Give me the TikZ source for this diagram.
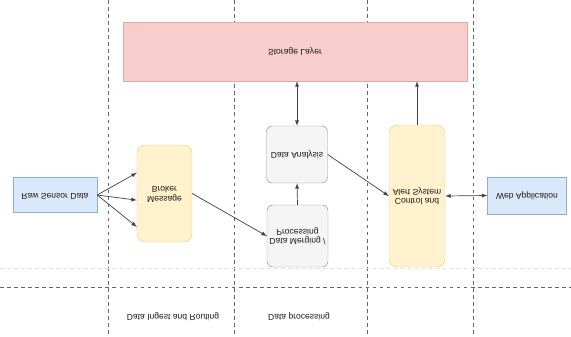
\documentclass[tikz,border=0pt]{standalone}
\usepackage{fontspec}
\setmainfont{Liberation Sans}
\usetikzlibrary{arrows}

\definecolor{sensorfill}{HTML}{DAE8FC}
\definecolor{sensorline}{HTML}{8FAAD3}
\definecolor{brokerfill}{HTML}{FFF2CC}
\definecolor{brokerline}{HTML}{E6CF8A}
\definecolor{storefill}{HTML}{F8CECC}
\definecolor{storeline}{HTML}{E3A9A9}
\definecolor{procfill}{HTML}{F5F5F5}
\definecolor{procline}{HTML}{9A9A9A}

% text is printed upside down in the picture
\newcommand{\upsidedown}[1]{\scalebox{1}[-1]{\begin{tabular}{@{}c@{}}#1\end{tabular}}}

\tikzset{
  box/.style={draw, font=\fontsize{7.3}{8.5}\selectfont, inner sep=2pt, text=black!90},
  bluebox/.style={box, fill=sensorfill, draw=sensorline},
  yellowbox/.style={box, rounded corners=7pt, fill=brokerfill, draw=brokerline},
  pinkbox/.style={box, fill=storefill, draw=storeline},
  graybox/.style={box, rounded corners=5pt, fill=procfill, draw=procline},
  lanelabel/.style={font=\fontsize{7.3}{8.5}\selectfont, text=black!90},
  lane/.style={dashed, thin, black!60},
  link/.style={-latex, semithick, black!75}
}

\begin{document}
\begin{tikzpicture}[x=0.03cm,y=-0.03cm]
  \useasboundingbox (0,0) rectangle (571,336);

  % swim lanes
  \foreach \x in {108,234,367,473}
    \draw[lane] (\x,0) -- (\x,336);
  \draw[dashed, black!12] (0,268) -- (571,268);
  \draw[lane] (0,287) -- (571,287);

  \node[pinkbox, minimum width=10.32cm, minimum height=1.77cm] (storage) at (295,51.5) {\upsidedown{Storage Layer}};
  \node[bluebox, minimum width=2.52cm, minimum height=1.05cm] (sensor) at (55,195) {\upsidedown{Raw Sensor Data}};
  \node[yellowbox, minimum width=1.65cm, minimum height=2.91cm] (broker) at (164.5,193.5) {\upsidedown{Message\\Broker}};
  \node[graybox, minimum width=1.83cm, minimum height=1.71cm] (analysis) at (297,154.5) {\upsidedown{Data Analysis}};
  \node[graybox, minimum width=1.83cm, minimum height=1.86cm] (merging) at (297.5,236) {\upsidedown{Data Merging /\\Processing}};
  \node[yellowbox, minimum width=1.68cm, minimum height=4.26cm] (control) at (417,196) {\upsidedown{Control and\\Alert System}};
  \node[bluebox, minimum width=2.37cm, minimum height=1.11cm] (webapp) at (527,195.5) {\upsidedown{Web Application}};

  \node[lanelabel] (ingest) at (173,316) {\upsidedown{Data Ingest and Routing}};
  \node[lanelabel] (processing) at (299,316) {\upsidedown{Data processing}};

  % connectors
  \foreach \dy in {0.62,-0.2,-1.0}
    \draw[link] (sensor.east) -- ([yshift=\dy cm]broker.west);
  \draw[link] (broker.east) -- (merging.west);
  \draw[link] (merging.north) -- (analysis.south);
  \draw[link, latex-latex] (analysis.north) -- (analysis.north |- storage.south);
  \draw[link] (analysis.east) -- (control.west);
  \draw[link] (control.north) -- (control.north |- storage.south);
  \draw[link, latex-latex] (control.east) -- (webapp.west);
\end{tikzpicture}
\end{document}
